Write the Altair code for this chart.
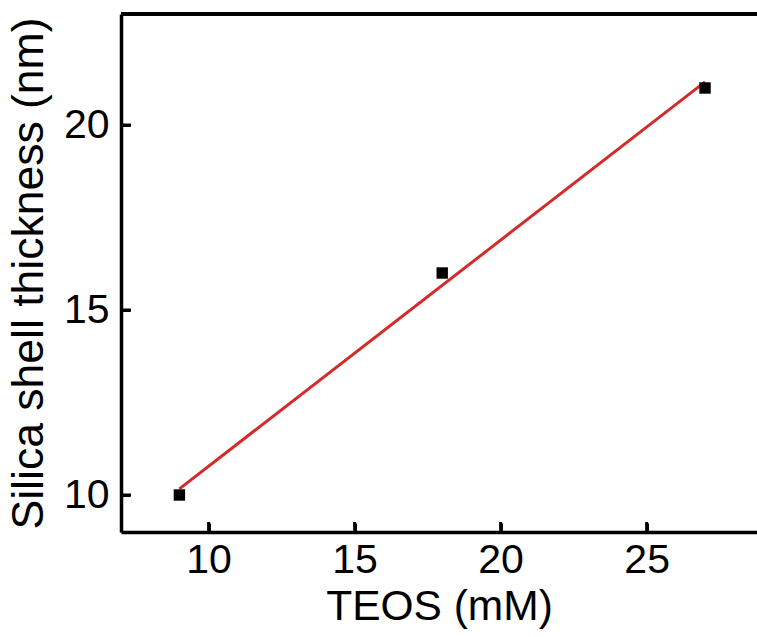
import altair as alt
import pandas as pd

teos = [9, 18, 27]
thickness = [10, 16, 21]
x_ticks = [10, 15, 20, 25]
y_ticks = [10, 15, 20]

df = pd.DataFrame({"x": teos, "y": thickness})
xt = pd.DataFrame({"xv": x_ticks})
yt = pd.DataFrame({"yv": y_ticks})

W, H = 636, 518
FONT = "Liberation Sans"
xscale = alt.Scale(domain=[7, 28.78], nice=False, zero=False)
yscale = alt.Scale(domain=[9, 23], nice=False, zero=False)

xaxis = alt.Axis(title="TEOS (mM)", values=x_ticks, grid=False, zindex=1,
                 tickSize={"expr": "-9"}, tickWidth=3, tickColor="black",
                 domainColor="black", domainWidth=3.5, labelFont=FONT, labelFontSize=41,
                 labelColor="black", labelPadding=17, titleFont=FONT, titleFontSize=42.5,
                 titleFontWeight="normal", titleColor="black", titlePadding=5)
yaxis = alt.Axis(title="Silica shell thickness (nm)", values=y_ticks, grid=False, zindex=1,
                 tickSize={"expr": "-9"}, tickWidth=3, tickColor="black",
                 domainColor="black", domainWidth=3.5, labelFont=FONT, labelFontSize=41,
                 labelColor="black", labelPadding=21, titleFont=FONT, titleFontSize=44.5,
                 titleFontWeight="normal", titleColor="black", titlePadding=12)

line = alt.Chart(df).mark_line(color="#d42a2a", strokeWidth=3).encode(
    x=alt.X("x:Q", scale=xscale, axis=xaxis),
    y=alt.Y("y:Q", scale=yscale, axis=yaxis),
).transform_regression("x", "y")

pts = alt.Chart(df).mark_square(color="black", size=130, opacity=1).encode(
    x=alt.X("x:Q", scale=xscale),
    y=alt.Y("y:Q", scale=yscale),
)

xtick = alt.Chart(xt).mark_rule(color="black", strokeWidth=3).encode(
    x=alt.X("xv:Q", scale=xscale),
    y=alt.value(H - 10), y2=alt.value(H),
)
ytick = alt.Chart(yt).mark_rule(color="black", strokeWidth=3).encode(
    y=alt.Y("yv:Q", scale=yscale),
    x=alt.value(0), x2=alt.value(10),
)

top = alt.Chart(df).mark_rule(color="black", strokeWidth=3.5).encode(
    x=alt.value(0), x2=alt.value(W + 5), y=alt.value(0),
)

chart = alt.layer(line, pts, xtick, ytick, top).properties(
    width=W, height=H,
    autosize=alt.AutoSizeParams(type="none"),
    padding={"left": 121, "top": 14, "right": 0, "bottom": 105},
    background="white",
).configure_view(stroke=None)

chart.save("out.html", embed_options={"renderer": "svg", "actions": False})
